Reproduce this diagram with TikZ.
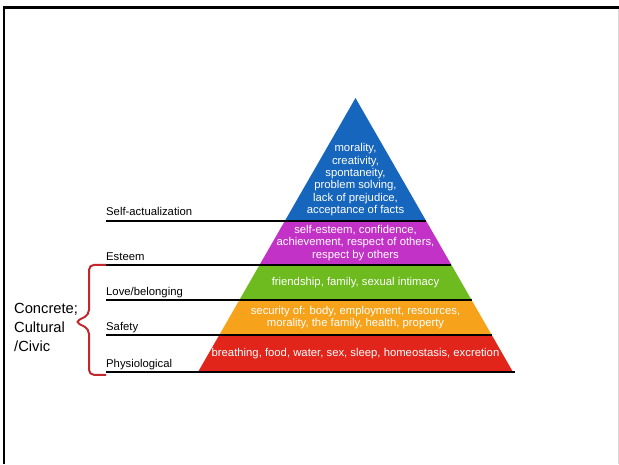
\documentclass[tikz,border=0pt]{standalone}
\usepackage{fontspec}
\setmainfont{Liberation Sans}
\usetikzlibrary{calc}

\definecolor{pyrblue}{HTML}{1766BD}
\definecolor{pyrmagenta}{HTML}{C232C6}
\definecolor{pyrgreen}{HTML}{6DBB1F}
\definecolor{pyrorange}{HTML}{F6A21B}
\definecolor{pyrred}{HTML}{E1251B}
\definecolor{bracered}{HTML}{C1272D}

\begin{document}
\begin{tikzpicture}[x=1pt,y=-1pt,
    layer text/.style={text=white,align=center,inner sep=0pt,font=\fontsize{11.3}{12.3}\selectfont},
    level label/.style={anchor=base west,inner sep=0pt,font=\fontsize{11.3}{13}\selectfont},
    sep line/.style={line width=2.4pt},
    bracket/.style={draw=bracered,line width=2pt,rounded corners=5pt}]
    \useasboundingbox (0,0) rectangle (619,464);
    % slide frame
    \draw[line width=2.8pt] (4,464) -- (4,7.5) -- (619,7.5);
    \draw[black!15,line width=0.8pt] (618,9) -- (618,464);

    % pyramid corners and the five levels
    \coordinate (apex) at (355.5,98);
    \coordinate (bl) at (198,372);
    \coordinate (br) at (513,372);
    \foreach \t [count=\i] in {0.449,0.609,0.737,0.865,1}{
        \coordinate (L\i) at ($(apex)!\t!(bl)$);
        \coordinate (R\i) at ($(apex)!\t!(br)$);
        \coordinate (C\i) at ($(L\i)!0.5!(R\i)$);
    }
    \fill[pyrblue] (apex) -- (R1) -- (L1) -- cycle;
    \fill[pyrmagenta] (L1) -- (R1) -- (R2) -- (L2) -- cycle;
    \fill[pyrgreen] (L2) -- (R2) -- (R3) -- (L3) -- cycle;
    \fill[pyrorange] (L3) -- (R3) -- (R4) -- (L4) -- cycle;
    \fill[pyrred] (L4) -- (R4) -- (R5) -- (L5) -- cycle;

    \node[layer text,anchor=south,yshift=5pt] (selfacttext) at (C1)
        {morality,\\creativity,\\spontaneity,\\problem solving,\\lack of prejudice,\\acceptance of facts};
    \node[layer text] (esteemtext) at ($(C1)!0.5!(C2)$)
        {self-esteem, confidence,\\achievement, respect of others,\\respect by others};
    \node[layer text] (lovetext) at ($(C2)!0.5!(C3)$) {friendship, family, sexual intimacy};
    \node[layer text] (safetytext) at ($(C3)!0.5!(C4)$)
        {security of: body, employment, resources,\\morality, the family, health, property};
    \node[layer text] (physiotext) at ($(C4)!0.5!(C5)$)
        {breathing, food, water, sex, sleep, homeostasis, excretion};

    % level names and their rules
    \node[level label] (lblS) at (106,215) {Self-actualization};
    \node[level label] (lblE) at (106,260) {Esteem};
    \node[level label] (lblL) at (106,295) {Love/belonging};
    \node[level label] (lblY) at (106,330) {Safety};
    \node[level label] (lblP) at (106,367) {Physiological};
    \draw[sep line] (lblS.base west |- L1) -- (R1);
    \draw[sep line] (lblE.base west |- L2) -- (R2);
    \draw[sep line] (lblL.base west |- L3) -- (R3);
    \draw[sep line] (lblY.base west |- L4) -- (R4);
    \draw[sep line] (lblP.base west |- L5) -- ($(R5)+(2,0)$);

    % brace over the lower four
    \node[anchor=north west,align=left,inner sep=0pt,font=\fontsize{14.7}{19}\selectfont] (civic) at (14,303)
        {Concrete;\\Cultural\\/Civic};
    \coordinate (btop) at (lblE.base west |- L2);
    \draw[bracket] (btop) -- ++(-17,0) -- ++(0,50) -- ++(-14,7) -- ++(14,7) -- ++(0,46) -- ++(17,0);
\end{tikzpicture}
\end{document}
